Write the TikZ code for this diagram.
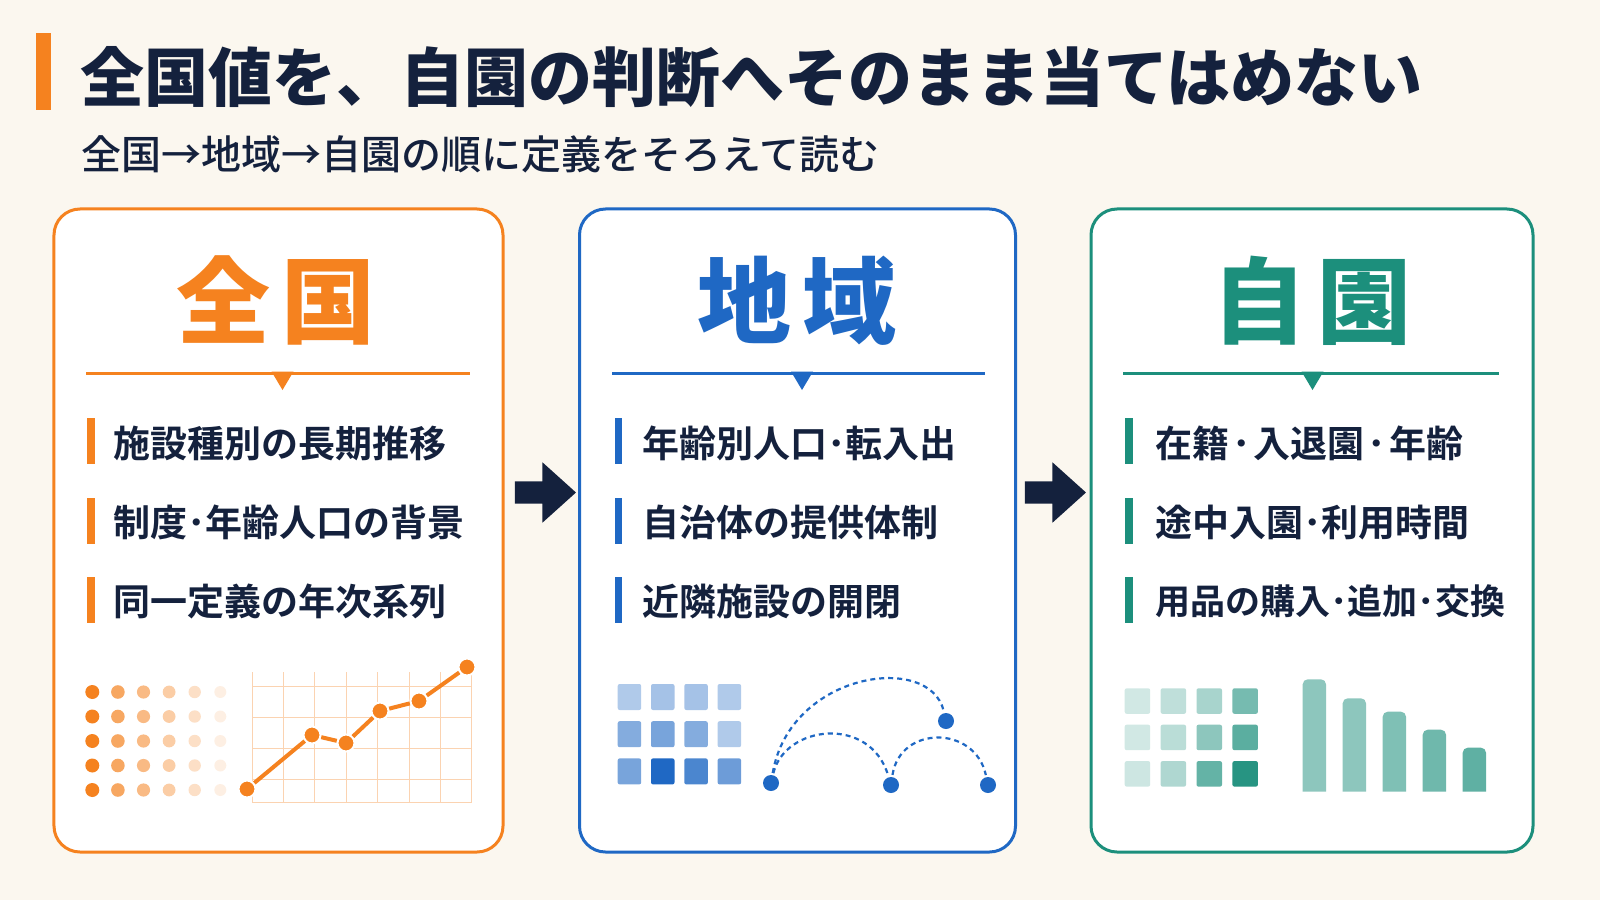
\documentclass[tikz,border=0pt]{standalone}
\usepackage{fontspec}
\setmainfont{Noto Sans CJK JP}
\IfFontExistsTF{Noto Sans CJK JP Black}{\newfontfamily\jpheavy{Noto Sans CJK JP Black}}{\newfontfamily\jpheavy{Noto Sans CJK JP}[FakeBold=3]}
\IfFontExistsTF{Noto Sans CJK JP Bold}{\newfontfamily\jpbold{Noto Sans CJK JP Bold}}{\newfontfamily\jpbold{Noto Sans CJK JP}[FakeBold=2]}
\IfFontExistsTF{Noto Sans CJK JP Medium}{\newfontfamily\jpmedium{Noto Sans CJK JP Medium}}{\newfontfamily\jpmedium{Noto Sans CJK JP}}
\usetikzlibrary{shapes.arrows,calc}

\definecolor{bgcream}{HTML}{FBF7EF}
\definecolor{inknavy}{HTML}{14213D}
\definecolor{zorange}{HTML}{F5821F}
\definecolor{zblue}{HTML}{1F68C4}
\definecolor{zteal}{HTML}{1C8F7C}

\begin{document}
\begin{tikzpicture}[x=1bp,y=-1bp,
  panel/.style={draw=#1, line width=3bp, rounded corners=26bp, fill=white, minimum height=643bp, inner sep=0},
  heading/.style={anchor=base, inner sep=0, text=#1, font=\jpheavy\fontsize{94bp}{100bp}\selectfont},
  item/.style={anchor=base west, inner sep=0, text=inknavy, font=\jpbold\fontsize{37bp}{40bp}\selectfont},
  flowarrow/.style={single arrow, fill=inknavy, draw=none, inner xsep=0, inner ysep=11bp, minimum height=61bp, single arrow head extend=19bp, single arrow tip angle=84},
  chartdot/.style={circle, fill=zorange, draw=white, line width=2bp, minimum size=17bp, inner sep=0},
  mapdot/.style={circle, fill=zblue, minimum size=16bp, inner sep=0},
  hop/.style={zblue, line width=2.2bp, dash pattern=on 5bp off 4bp, shorten <=2bp, shorten >=2bp}]
\fill[bgcream] (0,0) rectangle (1600,900);
\useasboundingbox (0,0) rectangle (1600,900);

\fill[zorange] (36,33) rectangle (51,110);
\node[anchor=base west, inner sep=0, text=inknavy, font=\jpheavy\fontsize{64bp}{70bp}\selectfont] (title) at (80,101) {全国値を、自園の判断へそのまま当てはめない};
\node[anchor=base west, inner sep=0, text=inknavy, font=\jpmedium\fontsize{40bp}{44bp}\selectfont] (subtitle) at (81,169) {全国→地域→自園の順に定義をそろえて読む};

\node[panel=zorange, minimum width=449bp] (p1) at (278.5,530.5) {};
\node[panel=zblue, minimum width=436bp] (p2) at (797.5,530.5) {};
\node[panel=zteal, minimum width=442bp] (p3) at (1312,530.5) {};

\node[flowarrow] (a1) at ($(p1.east)!0.5!(p2.west)+(-2,-38)$) {};
\node[flowarrow] (a2) at ($(p2.east)!0.5!(p3.west)+(-4,-38)$) {};

\node[heading=zorange] (h1) at (276,336) {全\hspace{12bp}国};
\node[heading=zblue] (h2) at (797,336) {地\hspace{12bp}域};
\node[heading=zteal] (h3) at (1312,336) {自\hspace{12bp}園};

\foreach \col/\xl/\xr/\xm in {zorange/86/470/282.5, zblue/612/985/802, zteal/1123/1499/1312.5} {
  \draw[\col, line width=3bp] (\xl,373) -- (\xr,373);
  \fill[\col] (\xm-11,371.5) -- (\xm+11,371.5) -- (\xm,390) -- cycle;
}

\foreach \col/\bx in {zorange/87, zblue/614.5, zteal/1125}
  \foreach \yc in {441,520.5,600}
    \fill[\col] (\bx,\yc-23) rectangle (\bx+7.5,\yc+23);

\node[item] (i11) at (113,457) {施設種別の長期推移};
\node[item] (i12) at (113,536) {制度･年齢人口の背景};
\node[item] (i13) at (113,615) {同一定義の年次系列};
\node[item] (i21) at (642,457) {年齢別人口･転入出};
\node[item] (i22) at (642,536) {自治体の提供体制};
\node[item] (i23) at (642,615) {近隣施設の開閉};
\node[item] (i31) at (1155,457) {在籍\hspace{3bp}･\hspace{3bp}入退園\hspace{3bp}･\hspace{3bp}年齢};
\node[item] (i32) at (1155,536) {途中入園･利用時間};
\node[item, font=\jpbold\fontsize{35bp}{40bp}\selectfont] (i33) at (1155,614) {用品の購入･追加･交換};

\foreach \i/\op/\rad in {0/1/7, 1/.7/6.8, 2/.55/6.6, 3/.4/6.4, 4/.25/6.2, 5/.12/6}
  \foreach \j in {0,...,4}
    \fill[zorange, opacity=\op] (92.3+25.6*\i, 692+24.5*\j) circle (\rad);

\foreach \k in {0,...,7}
  \draw[zorange!35, line width=1bp] (252+31.4*\k,672) -- (252+31.4*\k,802);
\foreach \yy in {686,717,748,779,802}
  \draw[zorange!35, line width=1bp] (252,\yy) -- (472,\yy);

\foreach \n/\px/\py in {1/247/789, 2/312/735, 3/346/743, 4/380/711, 5/419/701, 6/467/667}
  \node[chartdot] (c\n) at (\px,\py) {};
\draw[zorange, line width=4bp] (c1) -- (c2) -- (c3) -- (c4) -- (c5) -- (c6);

\foreach \i/\j/\op in {0/0/.35, 1/0/.4, 2/0/.4, 3/0/.35, 0/1/.55, 1/1/.6, 2/1/.55, 3/1/.35, 0/2/.6, 1/2/1, 2/2/.8, 3/2/.65}
  \fill[zblue, opacity=\op, rounded corners=2bp] (617.7+33.3*\i, 684+37.2*\j) rectangle ++(23.5,26);

\node[mapdot] (d1) at (771,783) {};
\node[mapdot] (d2) at (946,721) {};
\node[mapdot] (d3) at (891,785) {};
\node[mapdot] (d4) at (988,785) {};
\draw[hop] (d1) .. controls (790,672) and (930,652) .. (d2);
\draw[hop] (d1) .. controls (785,725) and (870,715) .. (d3);
\draw[hop] (d3) .. controls (900,725) and (975,725) .. (d4);

\foreach \i/\j/\op in {0/0/.2, 1/0/.28, 2/0/.38, 3/0/.6, 0/1/.2, 1/1/.3, 2/1/.5, 3/1/.72, 0/2/.22, 1/2/.35, 2/2/.68, 3/2/.95}
  \fill[zteal, opacity=\op, rounded corners=2bp] (1124.7+35.9*\i, 688.3+36.4*\j) rectangle ++(25.5,25.5);

\foreach \bx/\bt/\op in {1302.7/679.3/.5, 1342.7/698.3/.5, 1382.7/711.7/.56, 1422.7/729.7/.63, 1462.7/747.7/.7}
  \fill[zteal, opacity=\op, rounded corners=5bp] (\bx,791.7) -- (\bx,\bt) -- (\bx+23.3,\bt) -- (\bx+23.3,791.7);
\end{tikzpicture}
\end{document}
